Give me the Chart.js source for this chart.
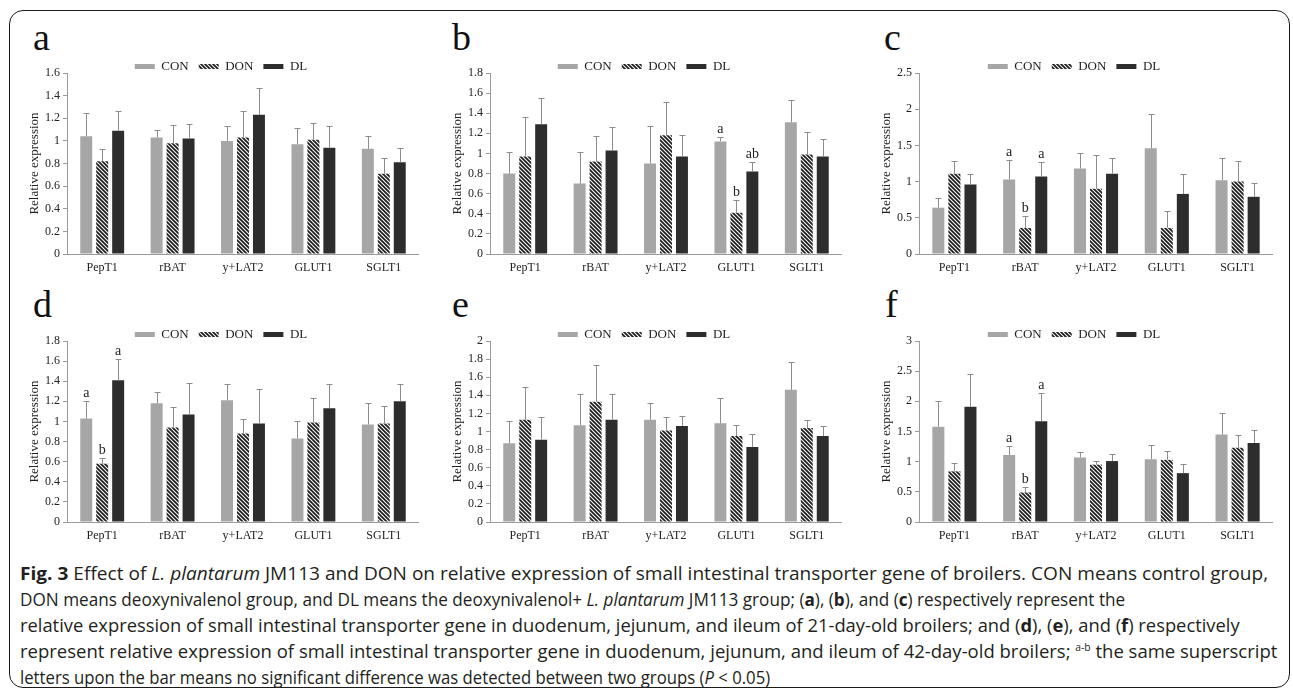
<!DOCTYPE html>
<html>
<head>
<meta charset="utf-8">
<script src="https://cdn.jsdelivr.net/npm/chart.js@4.4.0/dist/chart.umd.min.js"></script>
<style>
  body { margin: 0; background: #fff; }
  #fig { position: relative; width: 1293px; height: 693px; overflow: hidden; }
  .frame { position: absolute; left: 9px; top: 10px; width: 1279px; height: 676px;
           border: 1.5px solid #1a1a1a; border-radius: 14px; }
  .letter { position: absolute; font-family: "Liberation Serif", serif; font-size: 38px;
            line-height: 38px; color: #111; }
  canvas { position: absolute; }
  .cap { position: absolute; left: 20px; font-family: "Open Sans", sans-serif;
         font-size: 18px; line-height: 26px; color: #231f20; white-space: nowrap;
         transform-origin: 0 50%; }
  .cap sup { font-size: 10px; line-height: 0; }
</style>
</head>
<body>
<div id="fig">
  <div class="frame"></div>
  <div class="letter" style="left:33px;top:18px">a</div>
  <div class="letter" style="left:452px;top:18px">b</div>
  <div class="letter" style="left:884px;top:18px">c</div>
  <div class="letter" style="left:33px;top:285px">d</div>
  <div class="letter" style="left:452px;top:285px">e</div>
  <div class="letter" style="left:885px;top:285px">f</div>
  <canvas id="chartA"></canvas>
  <canvas id="chartB"></canvas>
  <canvas id="chartC"></canvas>
  <canvas id="chartD"></canvas>
  <canvas id="chartE"></canvas>
  <canvas id="chartF"></canvas>
  <div class="cap" style="top:560px" data-end="1268"><b>Fig. 3</b> Effect of <i>L. plantarum</i> JM113 and DON on relative expression of small intestinal transporter gene of broilers. CON means control group,</div>
  <div class="cap" style="top:586px" data-end="1125">DON means deoxynivalenol group, and DL means the deoxynivalenol+ <i>L. plantarum</i> JM113 group; (<b>a</b>), (<b>b</b>), and (<b>c</b>) respectively represent the</div>
  <div class="cap" style="top:612px" data-end="1240">relative expression of small intestinal transporter gene in duodenum, jejunum, and ileum of 21-day-old broilers; and (<b>d</b>), (<b>e</b>), and (<b>f</b>) respectively</div>
  <div class="cap" style="top:638px" data-end="1277">represent relative expression of small intestinal transporter gene in duodenum, jejunum, and ileum of 42-day-old broilers; <sup>a-b</sup> the same superscript</div>
  <div class="cap" style="top:664px" data-end="770">letters upon the bar means no significant difference was detected between two groups (<i>P</i> &lt; 0.05)</div>
</div>
<script>
// Genes and groups
const categories = ['PepT1', 'rBAT', 'y+LAT2', 'GLUT1', 'SGLT1'];
const groups = ['CON', 'DON', 'DL'];

// Means (rows: CON, DON, DL) and SD (upper error bar)
// a - duodenum, 21 d
const meanA = [[1.04, 1.03, 1.00, 0.97, 0.93], [0.82, 0.98, 1.03, 1.01, 0.71], [1.09, 1.02, 1.23, 0.94, 0.81]];
const sdA   = [[0.21, 0.07, 0.13, 0.14, 0.11], [0.11, 0.16, 0.23, 0.15, 0.14], [0.17, 0.13, 0.24, 0.19, 0.13]];
// b - jejunum, 21 d
const meanB = [[0.80, 0.70, 0.90, 1.12, 1.31], [0.97, 0.92, 1.18, 0.41, 0.99], [1.29, 1.03, 0.97, 0.82, 0.97]];
const sdB   = [[0.21, 0.31, 0.37, 0.04, 0.22], [0.39, 0.25, 0.33, 0.13, 0.22], [0.26, 0.23, 0.21, 0.09, 0.17]];
// c - ileum, 21 d
const meanC = [[0.64, 1.03, 1.18, 1.46, 1.02], [1.11, 0.36, 0.90, 0.36, 1.00], [0.96, 1.07, 1.11, 0.83, 0.79]];
const sdC   = [[0.14, 0.27, 0.22, 0.47, 0.30], [0.18, 0.17, 0.47, 0.24, 0.29], [0.15, 0.20, 0.21, 0.28, 0.19]];
// d - duodenum, 42 d
const meanD = [[1.03, 1.18, 1.21, 0.83, 0.97], [0.58, 0.94, 0.88, 0.99, 0.98], [1.41, 1.07, 0.98, 1.13, 1.20]];
const sdD   = [[0.17, 0.11, 0.16, 0.17, 0.21], [0.06, 0.20, 0.14, 0.24, 0.17], [0.21, 0.31, 0.34, 0.24, 0.17]];
// e - jejunum, 42 d
const meanE = [[0.87, 1.07, 1.13, 1.09, 1.46], [1.13, 1.33, 1.01, 0.95, 1.04], [0.91, 1.13, 1.06, 0.83, 0.95]];
const sdE   = [[0.25, 0.34, 0.18, 0.28, 0.31], [0.36, 0.41, 0.15, 0.12, 0.09], [0.25, 0.28, 0.11, 0.14, 0.11]];
// f - ileum, 42 d
const meanF = [[1.58, 1.11, 1.07, 1.04, 1.45], [0.84, 0.49, 0.95, 1.03, 1.23], [1.91, 1.67, 1.01, 0.81, 1.31]];
const sdF   = [[0.43, 0.15, 0.09, 0.24, 0.35], [0.13, 0.09, 0.06, 0.14, 0.21], [0.55, 0.47, 0.12, 0.15, 0.21]];

// significance letters above bars
const sigB = [['', '', '', 'a', ''], ['', '', '', 'b', ''], ['', '', '', 'ab', '']];
const sigC = [['', 'a', '', '', ''], ['', 'b', '', '', ''], ['', 'a', '', '', '']];
const sigD = [['a', '', '', '', ''], ['b', '', '', '', ''], ['a', '', '', '', '']];
const sigF = [['', 'a', '', '', ''], ['', 'b', '', '', ''], ['', 'a', '', '', '']];

// y axis tick range per panel
const yMax  = [1.6, 1.8, 2.5, 1.8, 2, 3];
const yStep = [0.2, 0.2, 0.5, 0.2, 0.2, 0.5];

const SERIF = '"Liberation Serif", "Times New Roman", serif';
const TXT = '#222';
const AXIS = '#9a9a9a';

// hatch for DON bars
function hatch(ctx) {
    const tile = document.createElement('canvas');
    tile.width = 4; tile.height = 4;
    const g = tile.getContext('2d');
    g.fillStyle = '#fff';
    g.fillRect(0, 0, 4, 4);
    g.strokeStyle = '#1e1e1e';
    g.lineWidth = 1.8;
    g.beginPath();
    g.moveTo(-1, -1); g.lineTo(5, 5);
    g.moveTo(-1, 3); g.lineTo(1, 5);
    g.moveTo(3, -1); g.lineTo(5, 1);
    g.stroke();
    return ctx.createPattern(tile, 'repeat');
}

// upper error bars + letters
const errorBars = {
    id: 'errorBars',
    afterDatasetsDraw(chart) {
        const {ctx, scales: {y}} = chart;
        ctx.save();
        chart.data.datasets.forEach((ds, di) => {
            chart.getDatasetMeta(di).data.forEach((bar, i) => {
                const top = Math.round(y.getPixelForValue(ds.data[i] + ds.sd[i])) + 0.5;
                const x = Math.round(bar.x) + 0.5;
                ctx.strokeStyle = '#8c8c8c';
                ctx.lineWidth = 1;
                ctx.beginPath();
                ctx.moveTo(x, bar.y);
                ctx.lineTo(x, top);
                ctx.moveTo(x - 3, top);
                ctx.lineTo(x + 3, top);
                ctx.stroke();
                const s = ds.sig ? ds.sig[i] : '';
                if (s) {
                    ctx.fillStyle = TXT;
                    ctx.font = '14px ' + SERIF;
                    ctx.textAlign = 'center';
                    ctx.textBaseline = 'bottom';
                    ctx.fillText(s, bar.x, top - 1);
                }
            });
        });
        ctx.restore();
    }
};

// legend sits partly beside the plot top, so shorten its box
const legendHeight = {
    id: 'legendHeight',
    beforeInit(chart) {
        const fit = chart.legend.fit;
        chart.legend.fit = function () {
            fit.bind(chart.legend)();
            this.height = 23;
        };
    }
};

const panels = [
    {id: 'chartA', mean: meanA, sd: sdA, sig: null, left: 23,  top: 50,  width: 396},
    {id: 'chartB', mean: meanB, sd: sdB, sig: sigB, left: 446, top: 50,  width: 396},
    {id: 'chartC', mean: meanC, sd: sdC, sig: sigC, left: 875, top: 50,  width: 398},
    {id: 'chartD', mean: meanD, sd: sdD, sig: sigD, left: 23,  top: 318, width: 396},
    {id: 'chartE', mean: meanE, sd: sdE, sig: null, left: 446, top: 318, width: 396},
    {id: 'chartF', mean: meanF, sd: sdF, sig: sigF, left: 875, top: 318, width: 398}
];

function buildPanel(p, k) {
    const canvas = document.getElementById(p.id);
    canvas.width = p.width;
    canvas.height = 230;
    canvas.style.left = p.left + 'px';
    canvas.style.top = p.top + 'px';
    const ctx = canvas.getContext('2d');
    const fills = ['#a6a6a6', hatch(ctx), '#2d2d2d'];

    new Chart(ctx, {
        type: 'bar',
        data: {
            labels: categories,
            datasets: groups.map((g, i) => ({
                label: g,
                data: p.mean[i],
                sd: p.sd[i],
                sig: p.sig ? p.sig[i] : null,
                backgroundColor: fills[i],
                borderWidth: 0,
                categoryPercentage: 0.68,
                barPercentage: 0.75
            }))
        },
        options: {
            responsive: false,
            animation: false,
            layout: { padding: 0 },
            plugins: {
                tooltip: { enabled: false },
                legend: {
                    position: 'top',
                    labels: {
                        boxWidth: 20,
                        boxHeight: 5,
                        padding: 10,
                        color: TXT,
                        font: { family: SERIF, size: 13 }
                    }
                }
            },
            scales: {
                x: {
                    grid: { display: false, drawTicks: false },
                    border: { display: true, color: AXIS, width: 1 },
                    ticks: { color: TXT, padding: 7, font: { family: SERIF, size: 12 } },
                    afterFit(s) { s.height = 26; }
                },
                y: {
                    min: 0,
                    max: yMax[k],
                    grid: { drawOnChartArea: false, tickLength: 4, color: AXIS },
                    border: { display: true, color: AXIS, width: 1 },
                    ticks: {
                        stepSize: yStep[k],
                        padding: 3,
                        color: TXT,
                        font: { family: SERIF, size: 12 },
                        callback: v => String(+v.toFixed(2))
                    },
                    title: {
                        display: true,
                        text: 'Relative expression',
                        color: TXT,
                        padding: { top: 4, bottom: 0 },
                        font: { family: SERIF, size: 13 }
                    },
                    afterFit(s) { s.width = 44; }
                }
            }
        },
        plugins: [errorBars, legendHeight]
    });
}

panels.forEach(buildPanel);

// stretch each caption line to the width it has in the figure
document.querySelectorAll('.cap').forEach(el => {
    const natural = el.getBoundingClientRect().width;
    const target = +el.dataset.end - 20;
    el.style.transform = 'scaleX(' + (target / natural).toFixed(3) + ')';
});
</script>
</body>
</html>
